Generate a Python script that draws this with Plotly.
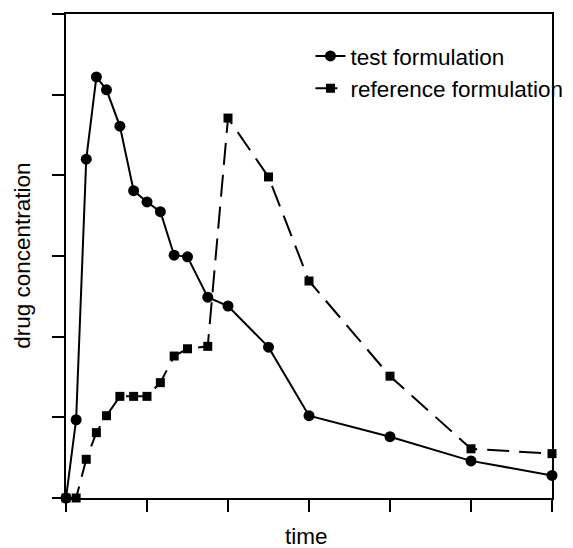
import plotly.graph_objects as go

# Time points (same sampling schedule for both formulations)
time_points = [0, 0.25, 0.5, 0.75, 1, 1.33, 1.67, 2, 2.33, 2.67, 3, 3.5, 4, 5, 6, 8, 10, 12]

# Drug concentration (arbitrary units)
test_conc = [0, 0.97, 4.20, 5.22, 5.06, 4.61, 3.81, 3.67, 3.55, 3.01, 2.99, 2.49, 2.38,
             1.87, 1.02, 0.76, 0.46, 0.28]
reference_conc = [0, 0, 0.48, 0.81, 1.02, 1.26, 1.26, 1.26, 1.43, 1.76, 1.85, 1.88, 4.71,
                  3.98, 2.69, 1.51, 0.61, 0.55]

series_names = ["test formulation", "reference formulation"]

FONT = "Liberation Sans, Arial, Helvetica, sans-serif"
FS = 22.5

fig = go.Figure()
fig.add_trace(go.Scatter(
    x=time_points, y=test_conc, name=series_names[0], mode="lines+markers",
    line=dict(color="black", width=2),
    marker=dict(symbol="circle", size=11, color="black"),
    cliponaxis=False,
))
fig.add_trace(go.Scatter(
    x=time_points, y=reference_conc, name=series_names[1], mode="lines+markers",
    line=dict(color="black", width=2, dash="22px,10px"),
    marker=dict(symbol="square", size=9, color="black"),
    cliponaxis=False,
))

fig.update_layout(
    width=573, height=548, autosize=False,
    margin=dict(l=66, r=21, t=14, b=50, autoexpand=False),
    paper_bgcolor="white", plot_bgcolor="white",
    font=dict(family=FONT, size=FS, color="black"),
    showlegend=True,
    legend=dict(x=0.503, y=0.957, xanchor="left", yanchor="top",
                bgcolor="rgba(0,0,0,0)", font=dict(size=FS, family=FONT),
                tracegroupgap=0),
    xaxis=dict(range=[0, 12], dtick=2, tick0=0, showticklabels=False,
               ticks="outside", ticklen=12, tickwidth=1.5, tickcolor="black",
               showline=True, linewidth=2, linecolor="black", mirror=True,
               showgrid=False, zeroline=False),
    yaxis=dict(range=[0, 6], dtick=1, tick0=0, showticklabels=False,
               ticks="outside", ticklen=12, tickwidth=1.5, tickcolor="black",
               showline=True, linewidth=2, linecolor="black", mirror=True,
               showgrid=False, zeroline=False),
    annotations=[
        dict(text="time", xref="paper", yref="paper", x=0.494, y=-0.109,
             xanchor="center", yanchor="bottom", showarrow=False,
             font=dict(size=FS, family=FONT)),
        dict(text="drug concentration", xref="paper", yref="paper", x=-0.091, y=0.5,
             xanchor="center", yanchor="middle", textangle=-90, showarrow=False,
             font=dict(size=FS, family=FONT)),
    ],
)

fig.write_html(
    "out.html",
    config={"responsive": False, "displayModeBar": False},
    post_script=(
        "document.body.style.margin='0px';"
        "document.body.style.overflow='hidden';"
        "document.documentElement.style.overflow='hidden';"
    ),
)
